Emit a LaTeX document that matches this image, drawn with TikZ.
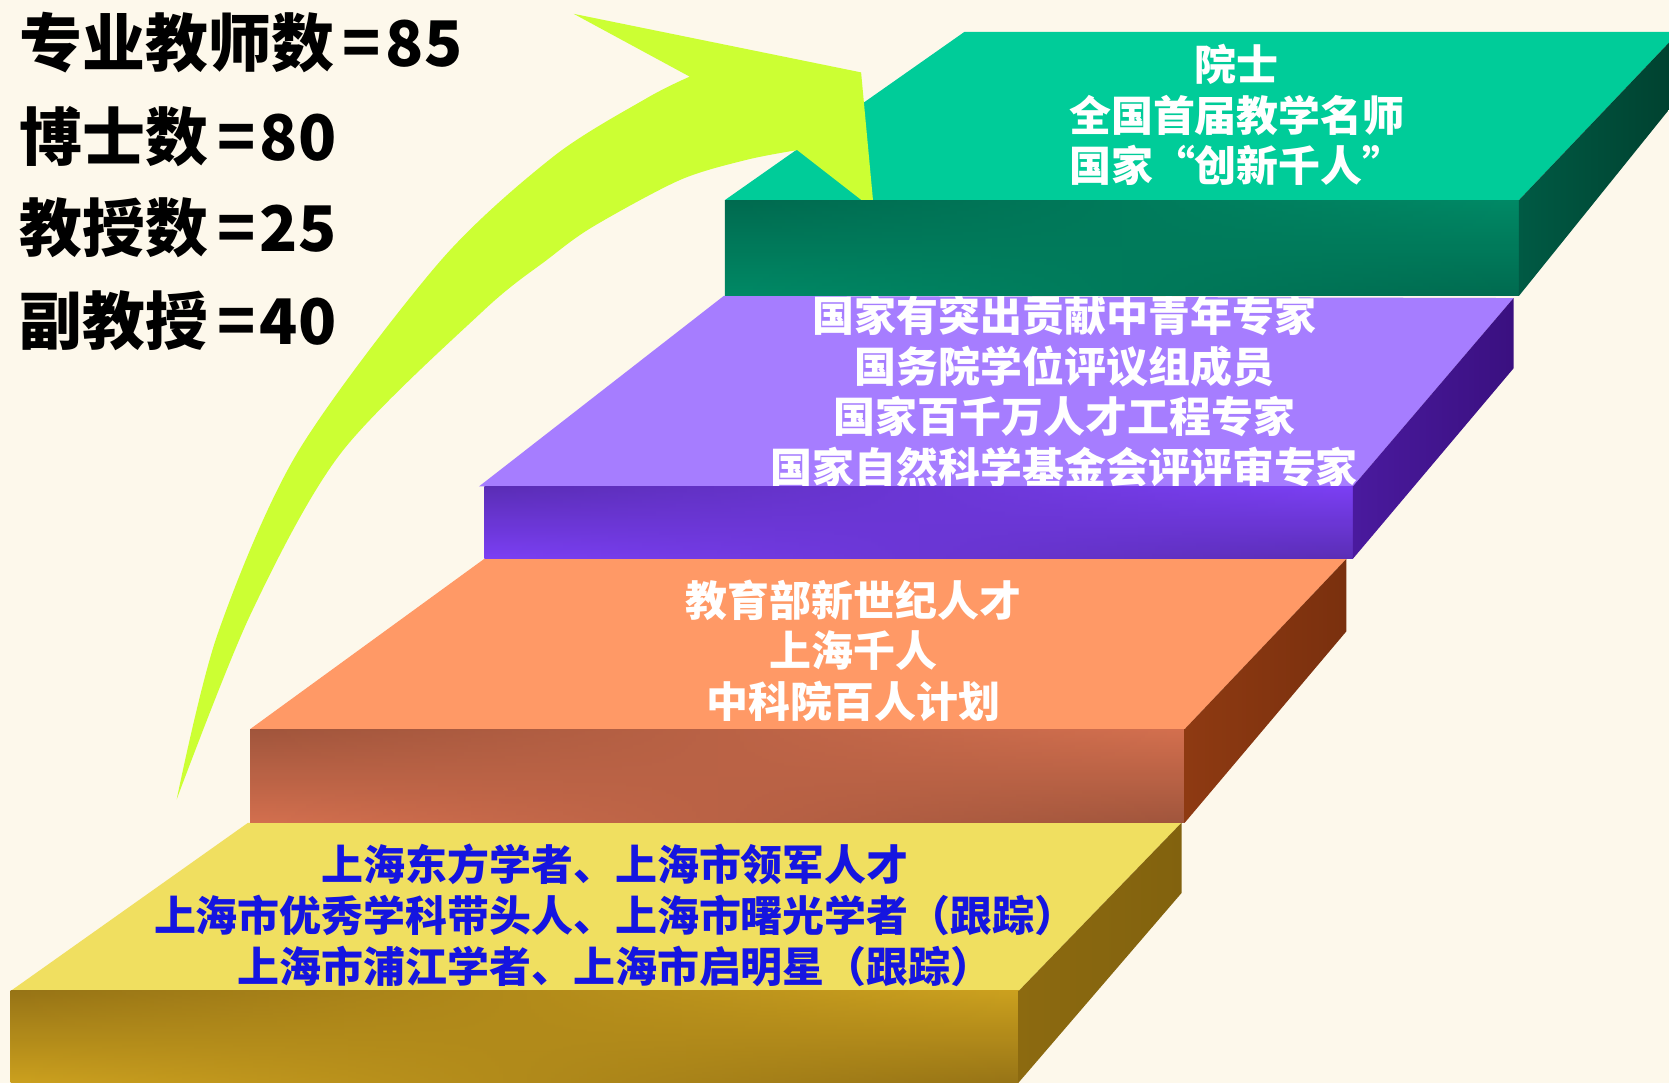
\documentclass[tikz,border=0pt]{standalone}
\usepackage{fontspec}
\setmainfont{Noto Sans CJK SC}
\usetikzlibrary{fadings}
\definecolor{bgcream}{HTML}{FDF8EB}
\definecolor{arrowlime}{HTML}{CCFF33}
\definecolor{textblue}{HTML}{1515E0}
\definecolor{grntop}{HTML}{00CC99}
\definecolor{grndark}{HTML}{006A4F}
\definecolor{grnlight}{HTML}{008A66}
\definecolor{prptop}{HTML}{A67DFF}
\definecolor{prpdark}{HTML}{5A2DB5}
\definecolor{prplight}{HTML}{7C40F5}
\definecolor{orgtop}{HTML}{FF9966}
\definecolor{orgdark}{HTML}{A0553C}
\definecolor{orglight}{HTML}{D4704F}
\definecolor{ylwtop}{HTML}{F0DF60}
\definecolor{ylwdark}{HTML}{977416}
\definecolor{ylwlight}{HTML}{CCA11F}
\tikzfading[name=fade right, left color=transparent!100, right color=transparent!0]
\newcommand{\stateq}{\kern2.3pt=\kern1.2pt}

\begin{document}
\begin{tikzpicture}[x=0.01cm,y=-0.01cm,
  slabtext/.style={font=\bfseries\fontsize{11.2}{13.5}\selectfont,align=center,inner sep=0pt,text=white},
  stattext/.style={font=\bfseries\fontsize{16.8}{20}\selectfont,anchor=west,inner sep=0pt}]
  \useasboundingbox (0,0) rectangle (1568,1017);
  \clip (0,0) rectangle (1568,1017);
  \fill[bgcream] (0,0) rectangle (1568,1017);

  % yellow step
  \fill[ylwtop] (233,773)--(1110,773)--(957,931)--(10,931)--cycle;
  \node[slabtext,text=textblue] (shanghai) at (578,860) {上海东方学者、上海市领军人才\\上海市优秀学科带头人、上海市曙光学者（跟踪）\\上海市浦江学者、上海市启明星（跟踪）};
  \shade[top color=ylwdark,middle color=ylwdark,bottom color=ylwlight] (10,931) rectangle (957,1017);
  \shade[top color=ylwlight,middle color=ylwdark,bottom color=ylwdark,path fading=fade right] (10,931) rectangle (957,1017);
  \shade[left color={rgb,255:red,140;green,106;blue,16},middle color={rgb,255:red,71;green,53;blue,0},right color={rgb,255:red,130;green,98;blue,14}] (957,931)--(1110,773)--(1110,839)--(957,1017)--cycle;

  % orange step
  \fill[orgtop] (455,525)--(1265,525)--(1113,685)--(235,685)--cycle;
  \node[slabtext] (talents) at (802,611) {教育部新世纪人才\\上海千人\\中科院百人计划};
  \shade[top color=orgdark,middle color=orgdark,bottom color=orglight] (235,685) rectangle (1113,773);
  \shade[top color=orglight,middle color=orgdark,bottom color=orgdark,path fading=fade right] (235,685) rectangle (1113,773);
  \shade[left color={rgb,255:red,142;green,58;blue,18},middle color={rgb,255:red,66;green,28;blue,2},right color={rgb,255:red,122;green,48;blue,14}] (1113,685)--(1265,525)--(1265,593)--(1113,773)--cycle;

  % purple step
  \fill[prptop] (680,278)--(1422,280)--(1271,457)--(450,457)--cycle;
  \node[slabtext] (experts) at (1000,368) {国家有突出贡献中青年专家\\国务院学位评议组成员\\国家百千万人才工程专家\\国家自然科学基金会评评审专家};
  \shade[top color=prpdark,middle color=prpdark,bottom color=prplight] (455,457) rectangle (1271,525);
  \shade[top color=prplight,middle color=prpdark,bottom color=prpdark,path fading=fade right] (455,457) rectangle (1271,525);
  \shade[left color={rgb,255:red,74;green,26;blue,158},middle color={rgb,255:red,35;green,8;blue,80},right color={rgb,255:red,58;green,16;blue,128}] (1271,457)--(1422,280)--(1422,346)--(1271,525)--cycle;

  % green step
  \fill[grntop] (906,30)--(1568,30)--(1568,40)--(1427,188)--(681,188)--cycle;
  \node[slabtext] (academy) at (1162,108) {院士\\全国首届教学名师\\国家“创新千人”};

  % arrow
  \fill[arrowlime] plot[smooth] coordinates {(166,751) (204,597) (279,426) (413,246) (520,147) (608,92) (648,72)}
    -- (539,13) -- (809,68) -- (821,197)
    -- plot[smooth] coordinates {(749,141) (702,150) (639,169) (557,213) (514,244) (454,292) (320,426) (235,578) (166,751)} -- cycle;

  \shade[top color=grndark,middle color=grndark,bottom color=grnlight] (681,188) rectangle (1427,278);
  \shade[top color=grnlight,middle color=grndark,bottom color=grndark,path fading=fade right] (681,188) rectangle (1427,278);
  \shade[left color={rgb,255:red,0;green,90;blue,68},middle color={rgb,255:red,0;green,40;blue,28},right color={rgb,255:red,0;green,66;blue,48}] (1427,188)--(1568,40)--(1568,103)--(1427,278)--cycle;

  \node[stattext] (teachers) at (18,40) {专业教师数\stateq 85};
  \node[stattext] (doctors) at (18,128) {博士数\stateq 80};
  \node[stattext] (profs) at (18,214) {教授数\stateq 25};
  \node[stattext] (assoc) at (18,301) {副教授\stateq 40};
\end{tikzpicture}
\end{document}
